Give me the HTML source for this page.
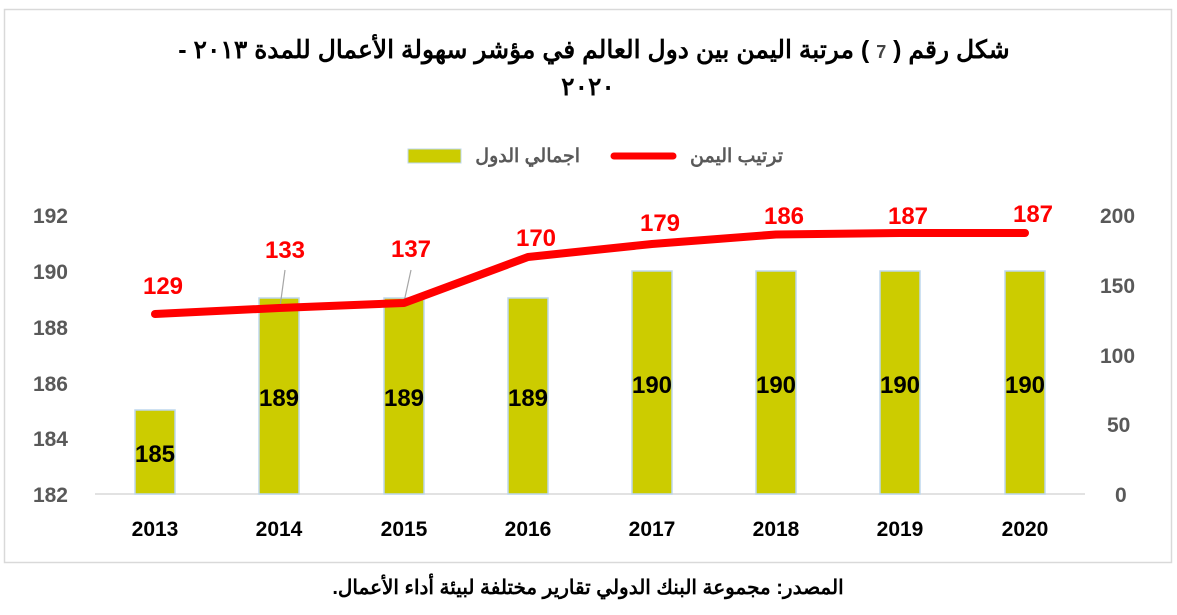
<!DOCTYPE html>
<html><head><meta charset="utf-8"><style>
body{margin:0;background:#fff;width:1177px;height:610px;overflow:hidden}
svg text{font-family:"Liberation Sans","Noto Sans CJK SC",sans-serif;font-weight:bold}
</style></head><body>
<svg width="1177" height="610" xmlns="http://www.w3.org/2000/svg">
<rect x="4.5" y="9.5" width="1167" height="553" fill="#fff" stroke="#d9d9d9" stroke-width="1.5"/>
<text x="594" y="58" font-size="25" text-anchor="middle" direction="rtl" fill="#000">شكل رقم ( <tspan fill="#444" font-size="18">7</tspan> ) مرتبة اليمن بين دول العالم في مؤشر سهولة الأعمال للمدة ٢٠١٣ -</text>
<text x="588" y="95" font-size="25" text-anchor="middle" fill="#000">٢٠٢٠</text>
<rect x="408" y="149" width="53" height="14" fill="#cccc00" stroke="#bdd7ee"/>
<text x="580" y="162" font-size="19" text-anchor="start" direction="rtl" fill="#595959">اجمالي الدول</text>
<line x1="614" y1="156" x2="673" y2="156" stroke="#f00" stroke-width="7" stroke-linecap="round"/>
<text x="783" y="162" font-size="19" text-anchor="start" direction="rtl" fill="#595959">ترتيب اليمن</text>
<line x1="95" y1="494" x2="1085" y2="494" stroke="#d9d9d9" stroke-width="1.5"/>
<g font-size="21" fill="#595959" text-anchor="end">
<text x="68" y="223">192</text><text x="68" y="279">190</text><text x="68" y="335">188</text><text x="68" y="391">186</text><text x="68" y="446">184</text><text x="68" y="502">182</text>
</g>
<g font-size="21" fill="#595959" text-anchor="start">
<text x="1100" y="223">200</text><text x="1100" y="293">150</text><text x="1100" y="363">100</text><text x="1107" y="432">50</text><text x="1115" y="502">0</text>
</g>
<g fill="#cccc00" stroke="#bdd7ee" stroke-width="1.5">
<rect x="135" y="410" width="40" height="84"/>
<rect x="259" y="298" width="40" height="196"/>
<rect x="384" y="298" width="40" height="196"/>
<rect x="508" y="298" width="40" height="196"/>
<rect x="632" y="271" width="40" height="223"/>
<rect x="756" y="271" width="40" height="223"/>
<rect x="880" y="271" width="40" height="223"/>
<rect x="1005" y="271" width="40" height="223"/>
</g>
<g font-size="24" fill="#000" text-anchor="middle">
<text x="155" y="462">185</text><text x="279" y="406">189</text><text x="404" y="406">189</text><text x="528" y="406">189</text>
<text x="652" y="393">190</text><text x="776" y="393">190</text><text x="900" y="393">190</text><text x="1025" y="393">190</text>
</g>
<line x1="285" y1="270" x2="280" y2="307" stroke="#a6a6a6" stroke-width="1.2"/>
<line x1="411" y1="270" x2="404" y2="302" stroke="#a6a6a6" stroke-width="1.2"/>
<polyline points="155,314 279,308 404,303 528,257 652,244 776,234.5 900,233 1025,233" fill="none" stroke="#f00" stroke-width="8" stroke-linecap="round" stroke-linejoin="round"/>
<g font-size="24" fill="#f00" text-anchor="middle">
<text x="163" y="294">129</text><text x="285" y="258">133</text><text x="411" y="257">137</text><text x="536" y="246">170</text>
<text x="660" y="231">179</text><text x="784" y="224">186</text><text x="908" y="224">187</text><text x="1033" y="222">187</text>
</g>
<g font-size="21" fill="#000" text-anchor="middle">
<text x="155" y="536">2013</text><text x="279" y="536">2014</text><text x="404" y="536">2015</text><text x="528" y="536">2016</text>
<text x="652" y="536">2017</text><text x="776" y="536">2018</text><text x="900" y="536">2019</text><text x="1025" y="536">2020</text>
</g>
<text x="588" y="594" font-size="20" text-anchor="middle" direction="rtl" fill="#000">المصدر: مجموعة البنك الدولي تقارير مختلفة لبيئة أداء الأعمال.</text>
</svg>
</body></html>
